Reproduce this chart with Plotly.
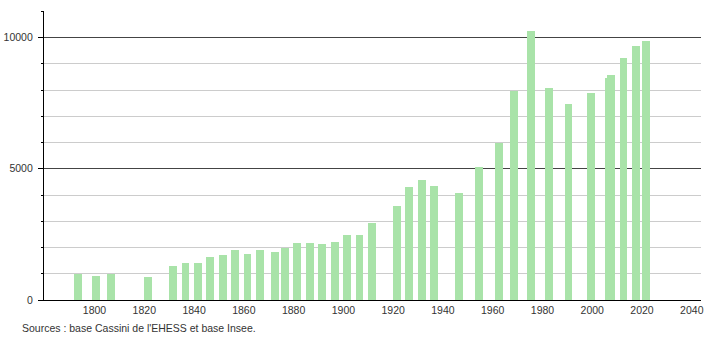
import plotly.graph_objects as go

years = [1793, 1800, 1806, 1821, 1831, 1836, 1841, 1846, 1851, 1856, 1861, 1866,
         1872, 1876, 1881, 1886, 1891, 1896, 1901, 1906, 1911, 1921, 1926, 1931,
         1936, 1946, 1954, 1962, 1968, 1975, 1982, 1990, 1999, 2006, 2007, 2012,
         2017, 2021]
population = [990, 915, 990, 885, 1295, 1395, 1395, 1635, 1710, 1900, 1750, 1900,
              1825, 1965, 2155, 2155, 2140, 2205, 2460, 2460, 2915, 3590, 4300, 4590,
              4335, 4080, 5055, 5995, 7960, 10265, 8085, 7480, 7870, 8455, 8555, 9230,
              9660, 9850]
x_ticks = [1800, 1820, 1840, 1860, 1880, 1900, 1920, 1940, 1960, 1980, 2000, 2020, 2040]
y_ticks = [0, 5000, 10000]
source_text = "Sources : base Cassini de l'EHESS et base Insee."

BAR_COLOR = "#a9e3a9"
FONT = "Liberation Sans, Arial, sans-serif"

fig = go.Figure()
fig.add_trace(go.Bar(
    x=years, y=population, width=3.1, offset=-1.05,
    marker=dict(color=BAR_COLOR, line=dict(width=0)),
    hoverinfo="x+y",
))

fig.update_layout(
    width=710, height=340,
    margin=dict(l=44, r=9, t=11, b=40, autoexpand=False),
    paper_bgcolor="white", plot_bgcolor="white",
    showlegend=False,
    font=dict(family=FONT, size=10.5, color="#333333"),
    bargap=0,
    xaxis=dict(
        range=[1779.7, 2043.7], automargin=False,
        tickmode="array", tickvals=x_ticks, ticktext=[str(v) for v in x_ticks],
        showgrid=False, zeroline=False,
        showline=True, linecolor="#000000", linewidth=1.2,
        ticks="", ticklen=0,
        tickfont=dict(family=FONT, size=10.5, color="#333333"),
    ),
    yaxis=dict(
        range=[0, 11010], automargin=False,
        tickmode="array", tickvals=y_ticks, ticktext=[str(v) for v in y_ticks],
        showgrid=True, gridcolor="#444444", gridwidth=1,
        zeroline=False,
        showline=True, linecolor="#000000", linewidth=1.2,
        ticks="outside", ticklen=5, tickcolor="#000000", tickwidth=1,
        ticklabelstandoff=3,
        tickfont=dict(family=FONT, size=10.5, color="#333333"),
        minor=dict(dtick=1000, tick0=0, showgrid=True, gridcolor="#cccccc",
                   gridwidth=1, ticks="outside", ticklen=2, tickcolor="#000000"),
    ),
    annotations=[dict(
        text=source_text, xref="paper", yref="paper",
        x=-0.0365, y=-0.097, xanchor="left", yanchor="middle",
        showarrow=False, font=dict(family=FONT, size=10.5, color="#333333"),
    )],
)

fig.write_html("out.html")
